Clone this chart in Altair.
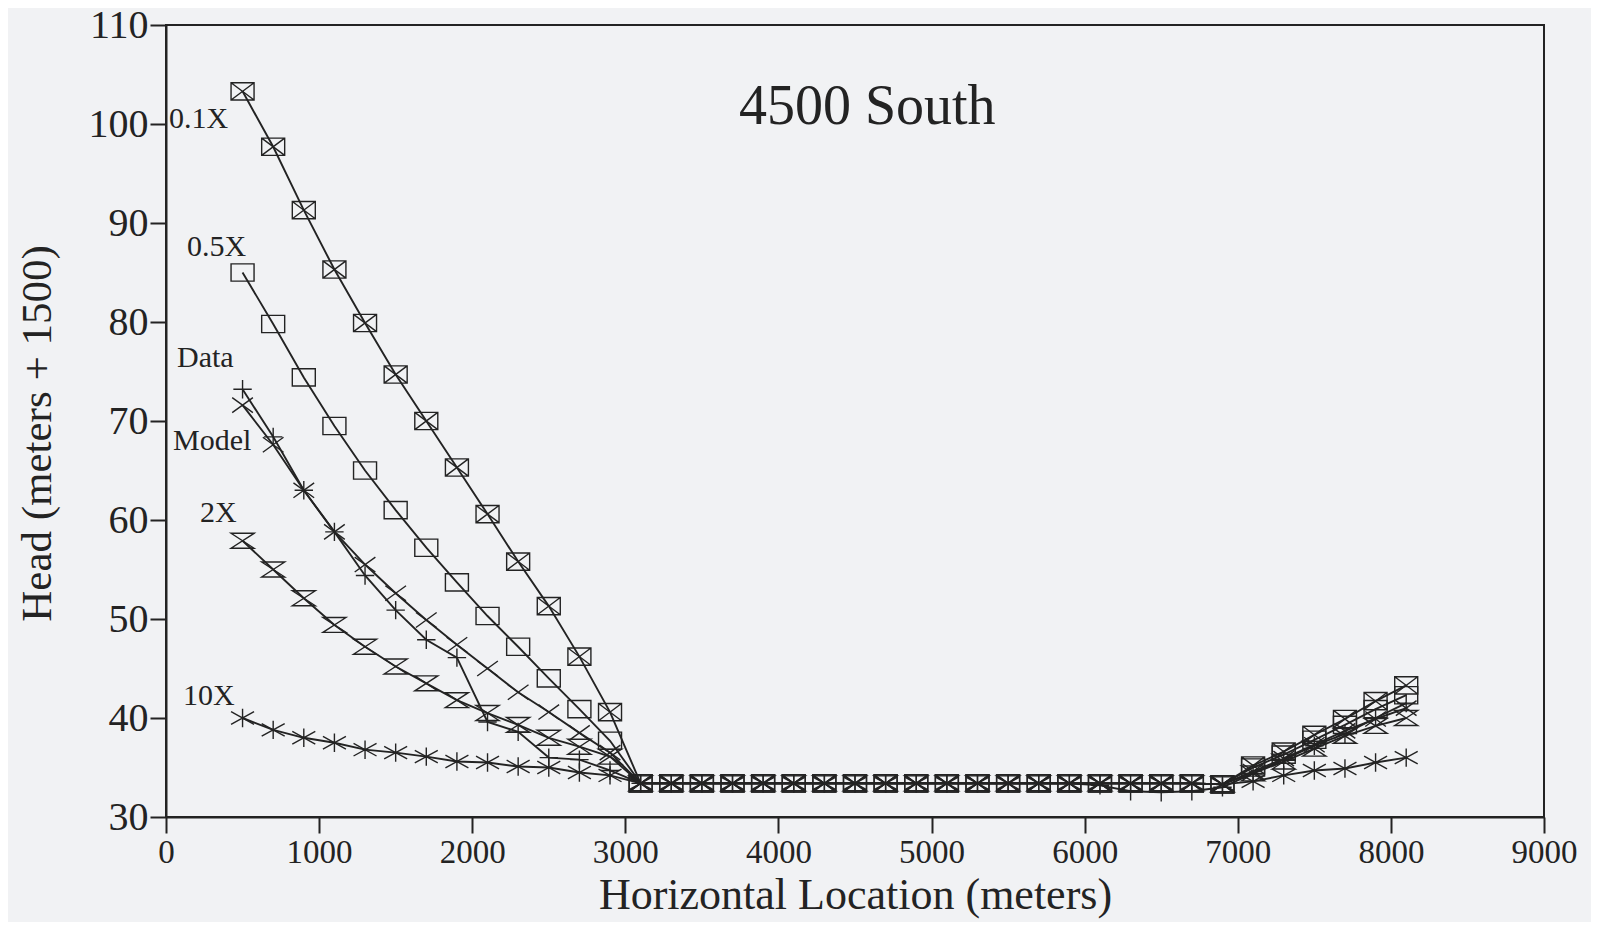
import altair as alt
import pandas as pd

# Horizontal location of every computed / observed head (meters)
x_m = [500, 700, 900, 1100, 1300, 1500, 1700, 1900, 2100, 2300, 2500, 2700, 2900,
       3100, 3300, 3500, 3700, 3900, 4100, 4300, 4500, 4700, 4900,
       5100, 5300, 5500, 5700, 5900, 6100, 6300, 6500, 6700, 6900,
       7100, 7300, 7500, 7700, 7900, 8100]

series_names = ["0.1X", "0.5X", "Data", "Model", "2X", "10X"]

head_01x = [103.3, 97.7, 91.3, 85.3, 79.9, 74.7, 70.0, 65.3, 60.6, 55.8, 51.3, 46.2, 40.6,
            33.4, 33.4, 33.4, 33.4, 33.4, 33.4, 33.4, 33.4, 33.4, 33.4,
            33.4, 33.4, 33.4, 33.4, 33.4, 33.4, 33.4, 33.4, 33.4, 33.3,
            35.2, 36.6, 38.3, 39.9, 41.7, 43.3]
head_05x = [85.0, 79.8, 74.4, 69.5, 65.0, 61.0, 57.2, 53.7, 50.3, 47.2, 44.0, 40.9, 37.7,
            33.4, 33.4, 33.4, 33.4, 33.4, 33.4, 33.4, 33.4, 33.4, 33.4,
            33.4, 33.4, 33.4, 33.4, 33.4, 33.4, 33.4, 33.4, 33.4, 33.3,
            35.0, 36.3, 37.8, 39.3, 40.9, 42.3]
head_data = [73.2, 68.4, 63.0, 58.8, 54.4, 50.9, 47.9, 46.1, 39.6, 38.6, 36.0, 35.8, 34.7,
             33.4, 33.4, 33.4, 33.4, 33.4, 33.4, 33.4, 33.4, 33.4, 33.4,
             33.4, 33.4, 33.4, 33.4, 33.4, 33.2, 32.6, 32.5, 32.6, 33.0,
             34.4, 35.8, 37.2, 38.4, 40.0, 41.5]
head_model = [71.6, 67.6, 63.0, 58.8, 55.5, 52.6, 49.9, 47.4, 45.0, 42.6, 40.6, 38.5, 36.5,
              33.4, 33.4, 33.4, 33.4, 33.4, 33.4, 33.4, 33.4, 33.4, 33.4,
              33.4, 33.4, 33.4, 33.4, 33.4, 33.4, 33.4, 33.4, 33.4, 33.3,
              34.6, 35.9, 37.3, 38.7, 39.9, 41.0]
head_2x = [57.9, 55.0, 52.1, 49.4, 47.2, 45.2, 43.5, 41.8, 40.5, 39.3, 38.0, 37.1, 36.1,
           33.4, 33.4, 33.4, 33.4, 33.4, 33.4, 33.4, 33.4, 33.4, 33.4,
           33.4, 33.4, 33.4, 33.4, 33.4, 33.4, 33.4, 33.4, 33.4, 33.3,
           34.4, 35.6, 36.9, 38.2, 39.2, 40.0]
head_10x = [40.0, 38.8, 38.0, 37.5, 36.8, 36.5, 36.1, 35.6, 35.5, 35.1, 35.0, 34.5, 34.2,
            33.4, 33.4, 33.4, 33.4, 33.4, 33.4, 33.4, 33.4, 33.4, 33.4,
            33.4, 33.4, 33.4, 33.4, 33.4, 33.4, 33.4, 33.4, 33.4, 33.3,
            33.6, 34.2, 34.7, 34.9, 35.5, 36.0]

# Series labels written beside the curves (data coordinates)
label_text = ["0.1X", "0.5X", "Data", "Model", "2X", "10X"]
label_x = [20, 137, 72, 46, 222, 111]
label_y = [99.6, 86.7, 75.5, 67.1, 59.8, 41.3]

title_text = ["4500 South"]
title_x = [4580]
title_y = [100.0]

x_ticks = [0, 1000, 2000, 3000, 4000, 5000, 6000, 7000, 8000, 9000]
y_ticks = [30, 40, 50, 60, 70, 80, 90, 100, 110]

all_heads = [head_01x, head_05x, head_data, head_model, head_2x, head_10x]
rows = []
for name, ys in zip(series_names, all_heads):
    for xv, yv in zip(x_m, ys):
        rows.append({"series": name, "x": xv, "y": yv})
df = pd.DataFrame(rows)
labels_df = pd.DataFrame({"text": label_text, "x": label_x, "y": label_y})
title_df = pd.DataFrame({"text": title_text, "x": title_x, "y": title_y})

INK = "#232323"
SERIF = "Liberation Serif"

shape_paths = [
    "M-1,-0.75H1V0.75H-1Z M-1,-0.75L1,0.75 M-1,0.75L1,-0.75",  # boxed X
    "M-1,-0.75H1V0.75H-1Z",                                     # open box
    "M-0.8,0H0.8 M0,-0.8V0.8",                                  # plus
    "M-0.9,-0.65L0.9,0.65 M-0.9,0.65L0.9,-0.65",                # x
    "M-1,-0.65H1L-1,0.65H1Z",                                    # hourglass
    "M0,-0.8V0.8 M-1,-0.55L1,0.55 M-1,0.55L1,-0.55",            # asterisk
]

x_enc = alt.X("x:Q", scale=alt.Scale(domain=[0, 9000], nice=False),
              axis=alt.Axis(values=x_ticks, title="Horizontal Location (meters)",
                            labelFontSize=33, titleFontSize=44, labelPadding=3,
                            titlePadding=4, format="d", labelFlush=False))
y_enc = alt.Y("y:Q", scale=alt.Scale(domain=[30, 110], nice=False, zero=False),
              axis=alt.Axis(values=y_ticks, title="Head (meters + 1500)",
                            labelFontSize=40, titleFontSize=43, labelPadding=2,
                            titlePadding=29, labelFlush=False, titleY=408))

lines = alt.Chart(df).mark_line(color=INK, strokeWidth=1.9).encode(
    x=x_enc, y=y_enc, detail="series:N", order="x:Q")

points = alt.Chart(df).mark_point(filled=False, color=INK, strokeWidth=1.4,
                                  size=529, opacity=1).encode(
    x="x:Q", y="y:Q",
    shape=alt.Shape("series:N", scale=alt.Scale(domain=series_names, range=shape_paths),
                    legend=None))

labels = alt.Chart(labels_df).mark_text(align="left", baseline="alphabetic", font=SERIF,
                                        fontSize=30, color=INK).encode(
    x="x:Q", y="y:Q", text="text:N")

title = alt.Chart(title_df).mark_text(align="center", baseline="alphabetic", font=SERIF,
                                      fontSize=56, color=INK).encode(
    x="x:Q", y="y:Q", text="text:N")

chart = alt.layer(lines, points, labels, title).properties(
    width=1378, height=792,
    background="#f1f2f4",
    padding={"left": 158, "top": 17, "right": 47, "bottom": 105},
    autosize=alt.AutoSizeParams(type="none"),
).configure_view(
    stroke=INK, strokeWidth=2
).configure_axis(
    grid=False, domainColor=INK, domainWidth=2, tickColor=INK, tickWidth=2,
    tickSize=16, labelFont=SERIF, titleFont=SERIF, labelColor=INK, titleColor=INK,
    titleFontWeight="normal"
)

chart.save("out.html", embed_options={"renderer": "svg", "actions": False})
